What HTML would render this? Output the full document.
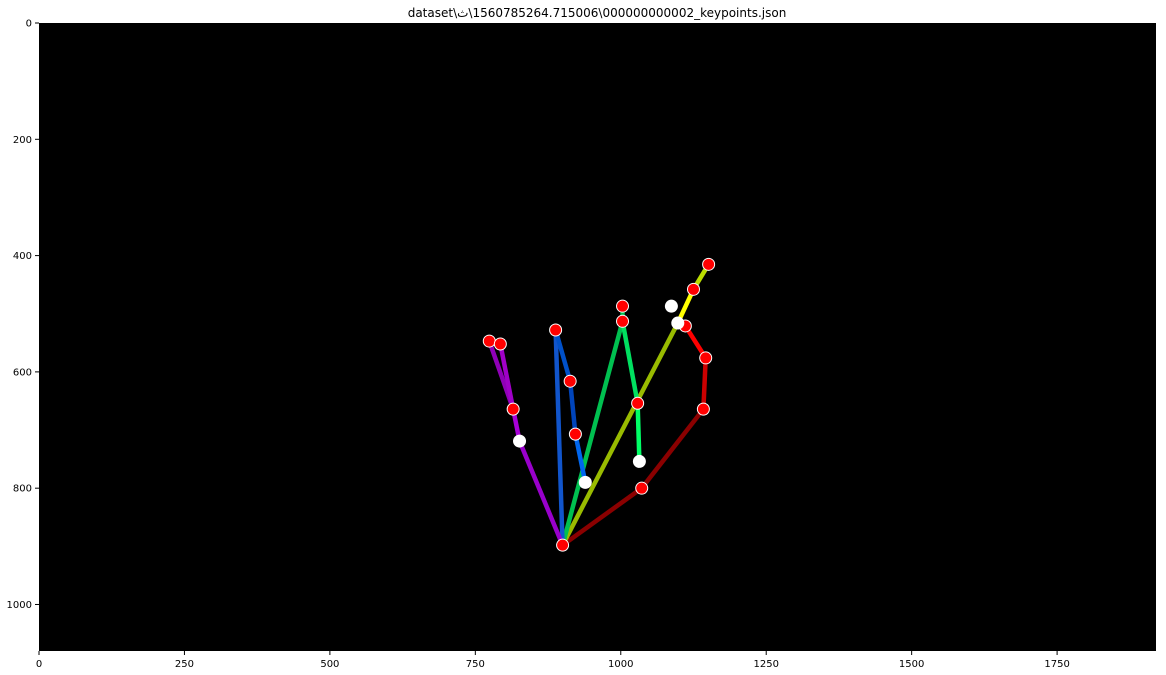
<!DOCTYPE html>
<html><head><meta charset="utf-8">
<style>
html,body{margin:0;padding:0;background:#fff;}
svg{display:block;font-family:"DejaVu Sans","Liberation Sans","Noto Sans CJK SC",sans-serif;}
</style></head>
<body>
<svg id="chart" width="1166" height="675" viewBox="0 0 1166 675" xmlns="http://www.w3.org/2000/svg">
<text x="597" y="17" font-size="12" text-anchor="middle" fill="#000" direction="ltr" unicode-bidi="bidi-override" style="direction:ltr;unicode-bidi:bidi-override">dataset\ث\1560785264.715006\000000000002_keypoints.json</text>
<rect x="39" y="23" width="1117" height="628" fill="#000"/>
<g id="axes"></g>
<g id="edges"></g>
<g id="points"></g>
</svg>
<script>
const xTicks = [0,250,500,750,1000,1250,1500,1750];
const yTicks = [0,200,400,600,800,1000];
const kpX = [900,1036,1142,1146,1111,1098,1087,1125,1151,1003,1003,1029,1032,888,913,922,939,774,793,815,826];
const kpY = [898,800,664,576,521,516,487,458,415,513,487,654,754,528,616,707,790,547,552,664,719];
const kpWhite = [0,0,0,0,0,1,1,0,0,0,0,0,1,0,0,0,1,0,0,0,1];
const edgeFrom = [0,1,2,3,0,5,7,0,10,9,11,0,13,14,15,0,19,19,20];
const edgeTo   = [1,2,3,4,5,7,8,9,9,11,12,13,14,15,16,20,17,18,19];
const edgeColor = ["#8a0000","#8a0000","#cc0000","#ff0000","#99bb00","#ffff00","#bbdd00","#00c050","#00c050","#00e060","#00ff66","#1155cc","#0050c8","#0044bb","#0066ee","#9900cc","#9000b8","#a000c8","#a800d8"];

const sc = 1117/1920;
function X(v){return 39 + v*sc;}
function Y(v){return 23 + v*(628/1080);}
const NS="http://www.w3.org/2000/svg";
const axes=document.getElementById('axes');
xTicks.forEach(t=>{
  const l=document.createElementNS(NS,'line');
  l.setAttribute('x1',X(t));l.setAttribute('x2',X(t));l.setAttribute('y1',651);l.setAttribute('y2',655);l.setAttribute('stroke','#000');
  
  
  axes.appendChild(l);
  const tx=document.createElementNS(NS,'text');
  tx.setAttribute('x',X(t));tx.setAttribute('y',667);tx.setAttribute('font-size','10');tx.setAttribute('text-anchor','middle');
  tx.textContent=t;
  
  
  axes.appendChild(tx);
});
yTicks.forEach(t=>{
  const l=document.createElementNS(NS,'line');
  l.setAttribute('x1',35);l.setAttribute('x2',39);l.setAttribute('y1',Y(t));l.setAttribute('y2',Y(t));l.setAttribute('stroke','#000');
  
  
  axes.appendChild(l);
  const tx=document.createElementNS(NS,'text');
  tx.setAttribute('x',32);tx.setAttribute('y',Y(t)+3.5);tx.setAttribute('font-size','10');tx.setAttribute('text-anchor','end');
  tx.textContent=t;
  
  
  axes.appendChild(tx);
});
const eg=document.getElementById('edges');
edgeFrom.forEach((a,i)=>{
  const b=edgeTo[i];
  const l=document.createElementNS(NS,'line');
  l.setAttribute('x1',X(kpX[a]));l.setAttribute('y1',Y(kpY[a]));
  l.setAttribute('x2',X(kpX[b]));l.setAttribute('y2',Y(kpY[b]));
  l.setAttribute('stroke',edgeColor[i]);l.setAttribute('stroke-width','4.5');
  
  
  eg.appendChild(l);
});
const pg=document.getElementById('points');
kpX.forEach((v,i)=>{
  const c=document.createElementNS(NS,'circle');
  c.setAttribute('cx',X(v));c.setAttribute('cy',Y(kpY[i]));
  if(kpWhite[i]){c.setAttribute('r','6.5');c.setAttribute('fill','#fff');}
  else{c.setAttribute('r','6');c.setAttribute('fill','#f00');c.setAttribute('stroke','#fff');c.setAttribute('stroke-width','1');}
  
  
  pg.appendChild(c);
});
</script>
</body></html>
